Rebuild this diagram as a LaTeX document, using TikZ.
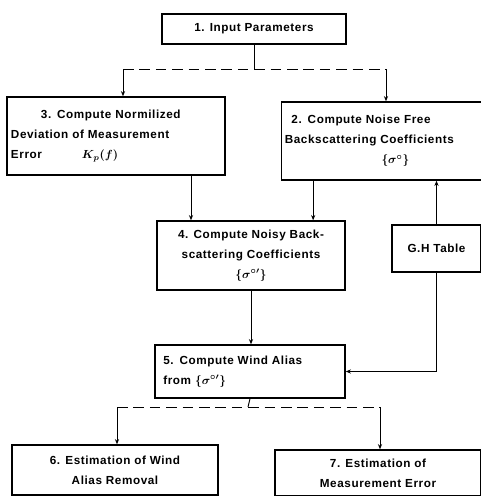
\documentclass[tikz,border=0pt]{standalone}
\usepackage{fontspec}
\setmainfont{Liberation Sans}[LetterSpace=5]
\usetikzlibrary{arrows.meta}

\begin{document}
\begin{tikzpicture}[x=0.03cm, y=-0.03cm,
        stepbox/.style={draw, line width=1.1pt, inner sep=3pt,
            font=\bfseries\boldmath\fontsize{10}{17}\selectfont},
        flow/.style={line width=0.8pt, -{Stealth[length=4.5pt, width=3.5pt]}},
        link/.style={line width=0.8pt},
        splitline/.style={line width=0.8pt, dash pattern=on 9pt off 5pt}]
        % Page frame in pixel units of the scan
        \useasboundingbox (0,0) rectangle (481,496);

        % Boxes of the flow chart
        \node[stepbox, minimum width=5.52cm, minimum height=0.9cm] (input) at (254,29)
            {1. Input Parameters};
        \node[stepbox, minimum width=6.54cm, minimum height=2.34cm, text width=6.3cm, align=left] (dev) at (116,136)
            {\hspace*{0.9cm}3. Compute Normilized\\Deviation of Measurement\\Error\hspace*{1.2cm}$K_p(f)$};
        \node[stepbox, minimum width=5.97cm, minimum height=2.34cm, text width=5.8cm, align=left] (free) at (381.5,141)
            {\hspace*{0.2cm}2. Compute Noise Free\\Backscattering Coefficients\\\hspace*{2.9cm}$\{\sigma^{\circ}\}$};
        \node[stepbox, minimum width=5.64cm, minimum height=2.07cm, align=center] (noisy) at (251,255.5)
            {4. Compute Noisy Back-\\scattering Coefficients\\$\{\sigma^{\circ\prime}\}$};
        \node[stepbox, minimum width=2.67cm, minimum height=1.41cm] (table) at (436.5,248.5)
            {G.H Table};
        \node[stepbox, minimum width=5.7cm, minimum height=1.59cm, text width=5.2cm, align=left] (wind) at (250,371.5)
            {5. Compute Wind Alias\\from $\{\sigma^{\circ\prime}\}$};
        \node[stepbox, minimum width=6.18cm, minimum height=1.5cm, align=center] (est) at (115,470)
            {6. Estimation of Wind\\Alias Removal};
        \node[stepbox, minimum width=6.18cm, minimum height=1.38cm, align=center] (err) at (378,473)
            {7. Estimation of\\Measurement Error};

        % Split below the input box
        \coordinate (split1) at (254,69);
        \coordinate (l1) at (123,69);
        \coordinate (r1) at (386,69);
        \draw[link] (input.south) -- (split1);
        \draw[splitline] (l1) -- (r1);
        \draw[flow] (l1) -- (l1 |- dev.north);
        \draw[flow] (r1) -- (r1 |- free.north);

        % Into the noisy coefficients
        \draw[flow] ([xshift=2.25cm]dev.south) -- ([xshift=2.25cm]dev.south |- noisy.north);
        \draw[flow] ([xshift=-2.05cm]free.south) -- ([xshift=-2.05cm]free.south |- noisy.north);
        \draw[flow] (table.north) -- (table.north |- free.south);

        % Into the wind alias box
        \draw[flow] (noisy.south) -- (noisy.south |- wind.north);
        \draw[flow] (table.south) |- (wind.east);

        % Split below the wind alias box
        \coordinate (split2) at (248,407);
        \coordinate (l2) at (117,407);
        \coordinate (r2) at (380,407);
        \draw[link] (wind.south) -- (split2);
        \draw[splitline] (l2) -- (r2);
        \draw[flow] (l2) -- (l2 |- est.north);
        \draw[flow] (r2) -- (r2 |- err.north);
    \end{tikzpicture}
\end{document}
